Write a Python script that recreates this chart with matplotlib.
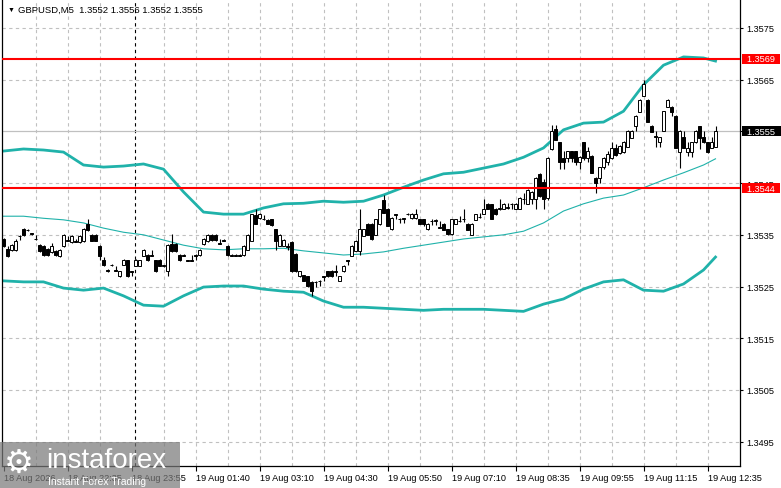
# GBPUSD M5 candlestick chart with Bollinger bands and two levels, MT4 style.
import matplotlib
matplotlib.use('Agg')
import matplotlib.pyplot as plt
from matplotlib.patches import Rectangle

plt.rcParams['font.family'] = ['Liberation Sans', 'DejaVu Sans']

# OHLC of the 5-minute bars
opens = [
    1.35341, 1.35323, 1.35321, 1.35320, 1.35347, 1.35361, 1.35359, 1.35353, 1.35342, 1.35330,
    1.35328, 1.35322, 1.35316, 1.35319, 1.35310, 1.35329, 1.35340, 1.35336, 1.35338, 1.35337,
    1.35338, 1.35371, 1.35350, 1.35350, 1.35329, 1.35302, 1.35282, 1.35292, 1.35282, 1.35270,
    1.35292, 1.35301, 1.35280, 1.35290, 1.35290, 1.35310, 1.35311, 1.35311, 1.35301, 1.35301,
    1.35290, 1.35280, 1.35332, 1.35332, 1.35311, 1.35311, 1.35301, 1.35301, 1.35311, 1.35311,
    1.35332, 1.35338, 1.35350, 1.35350, 1.35334, 1.35340, 1.35329, 1.35311, 1.35311, 1.35311,
    1.35311, 1.35321, 1.35339, 1.35388, 1.35382, 1.35381, 1.35379, 1.35380, 1.35361, 1.35329,
    1.35329, 1.35328, 1.35337, 1.35313, 1.35270, 1.35272, 1.35270, 1.35259, 1.35259, 1.35261,
    1.35270, 1.35280, 1.35281, 1.35280, 1.35261, 1.35280, 1.35301, 1.35310, 1.35319, 1.35319,
    1.35348, 1.35371, 1.35371, 1.35350, 1.35370, 1.35418, 1.35400, 1.35361, 1.35390, 1.35381,
    1.35382, 1.35391, 1.35382, 1.35382, 1.35380, 1.35380, 1.35361, 1.35377, 1.35377, 1.35365,
    1.35371, 1.35361, 1.35351, 1.35371, 1.35377, 1.35380, 1.35371, 1.35350, 1.35379, 1.35384,
    1.35391, 1.35410, 1.35409, 1.35400, 1.35400, 1.35400, 1.35402, 1.35410, 1.35400, 1.35400,
    1.35420, 1.35410, 1.35419, 1.35419, 1.35468, 1.35452, 1.35421, 1.35516, 1.35555, 1.35529,
    1.35499, 1.35499, 1.35512, 1.35512, 1.35491, 1.35529, 1.35499, 1.35503, 1.35460, 1.35460,
    1.35481, 1.35491, 1.35499, 1.35518, 1.35508, 1.35510, 1.35520, 1.35538, 1.35560, 1.35588,
    1.35619, 1.35611, 1.35561, 1.35541, 1.35529, 1.35551, 1.35598, 1.35598, 1.35580, 1.35510,
    1.35539, 1.35510, 1.35510, 1.35529, 1.35560, 1.35539, 1.35529, 1.35518, 1.35520,
]
highs = [
    1.35344, 1.35329, 1.35332, 1.35342, 1.35350, 1.35363, 1.35361, 1.35354, 1.35350, 1.35332,
    1.35330, 1.35324, 1.35334, 1.35320, 1.35322, 1.35352, 1.35348, 1.35350, 1.35342, 1.35350,
    1.35363, 1.35380, 1.35352, 1.35351, 1.35330, 1.35307, 1.35284, 1.35293, 1.35290, 1.35281,
    1.35303, 1.35302, 1.35281, 1.35303, 1.35302, 1.35322, 1.35312, 1.35320, 1.35302, 1.35303,
    1.35292, 1.35332, 1.35351, 1.35334, 1.35313, 1.35312, 1.35302, 1.35311, 1.35312, 1.35322,
    1.35343, 1.35352, 1.35351, 1.35351, 1.35342, 1.35341, 1.35330, 1.35312, 1.35312, 1.35312,
    1.35330, 1.35351, 1.35391, 1.35399, 1.35392, 1.35388, 1.35380, 1.35381, 1.35362, 1.35351,
    1.35341, 1.35334, 1.35338, 1.35314, 1.35281, 1.35273, 1.35271, 1.35260, 1.35260, 1.35262,
    1.35271, 1.35281, 1.35282, 1.35292, 1.35271, 1.35291, 1.35302, 1.35330, 1.35340, 1.35400,
    1.35362, 1.35372, 1.35372, 1.35381, 1.35400, 1.35427, 1.35401, 1.35384, 1.35391, 1.35382,
    1.35383, 1.35392, 1.35392, 1.35400, 1.35381, 1.35381, 1.35372, 1.35380, 1.35380, 1.35377,
    1.35372, 1.35362, 1.35381, 1.35381, 1.35386, 1.35399, 1.35372, 1.35372, 1.35391, 1.35392,
    1.35419, 1.35411, 1.35410, 1.35401, 1.35419, 1.35411, 1.35411, 1.35411, 1.35411, 1.35423,
    1.35431, 1.35438, 1.35435, 1.35461, 1.35469, 1.35458, 1.35500, 1.35562, 1.35562, 1.35530,
    1.35512, 1.35513, 1.35513, 1.35513, 1.35502, 1.35530, 1.35520, 1.35504, 1.35461, 1.35482,
    1.35500, 1.35512, 1.35529, 1.35525, 1.35523, 1.35531, 1.35552, 1.35552, 1.35581, 1.35612,
    1.35650, 1.35612, 1.35562, 1.35551, 1.35540, 1.35590, 1.35612, 1.35599, 1.35581, 1.35552,
    1.35551, 1.35529, 1.35530, 1.35552, 1.35561, 1.35551, 1.35530, 1.35539, 1.35560,
]
lows = [
    1.35326, 1.35307, 1.35319, 1.35319, 1.35340, 1.35348, 1.35357, 1.35350, 1.35340, 1.35317,
    1.35309, 1.35309, 1.35315, 1.35309, 1.35308, 1.35327, 1.35338, 1.35334, 1.35336, 1.35335,
    1.35336, 1.35358, 1.35338, 1.35338, 1.35301, 1.35290, 1.35279, 1.35290, 1.35280, 1.35269,
    1.35291, 1.35269, 1.35270, 1.35289, 1.35289, 1.35309, 1.35300, 1.35309, 1.35279, 1.35289,
    1.35288, 1.35270, 1.35317, 1.35317, 1.35299, 1.35309, 1.35299, 1.35299, 1.35301, 1.35310,
    1.35331, 1.35337, 1.35339, 1.35339, 1.35332, 1.35338, 1.35310, 1.35309, 1.35309, 1.35309,
    1.35309, 1.35320, 1.35338, 1.35370, 1.35381, 1.35378, 1.35370, 1.35368, 1.35320, 1.35328,
    1.35328, 1.35320, 1.35279, 1.35279, 1.35269, 1.35260, 1.35250, 1.35232, 1.35249, 1.35251,
    1.35261, 1.35269, 1.35269, 1.35270, 1.35260, 1.35279, 1.35292, 1.35309, 1.35318, 1.35311,
    1.35347, 1.35349, 1.35340, 1.35349, 1.35369, 1.35392, 1.35367, 1.35360, 1.35380, 1.35373,
    1.35373, 1.35389, 1.35381, 1.35381, 1.35370, 1.35368, 1.35360, 1.35369, 1.35369, 1.35363,
    1.35359, 1.35349, 1.35349, 1.35370, 1.35375, 1.35375, 1.35359, 1.35349, 1.35378, 1.35382,
    1.35390, 1.35399, 1.35380, 1.35389, 1.35398, 1.35399, 1.35400, 1.35400, 1.35399, 1.35399,
    1.35410, 1.35409, 1.35410, 1.35400, 1.35424, 1.35400, 1.35418, 1.35514, 1.35533, 1.35477,
    1.35477, 1.35491, 1.35491, 1.35485, 1.35477, 1.35495, 1.35491, 1.35469, 1.35431, 1.35450,
    1.35477, 1.35485, 1.35497, 1.35503, 1.35507, 1.35508, 1.35519, 1.35537, 1.35551, 1.35587,
    1.35618, 1.35568, 1.35548, 1.35520, 1.35520, 1.35550, 1.35597, 1.35580, 1.35517, 1.35480,
    1.35517, 1.35503, 1.35500, 1.35528, 1.35516, 1.35528, 1.35509, 1.35517, 1.35520,
]
closes = [
    1.35329, 1.35310, 1.35330, 1.35339, 1.35348, 1.35350, 1.35360, 1.35352, 1.35341, 1.35319,
    1.35311, 1.35311, 1.35329, 1.35311, 1.35321, 1.35350, 1.35339, 1.35348, 1.35337, 1.35348,
    1.35361, 1.35360, 1.35339, 1.35339, 1.35310, 1.35292, 1.35281, 1.35291, 1.35281, 1.35280,
    1.35301, 1.35270, 1.35279, 1.35301, 1.35301, 1.35321, 1.35301, 1.35310, 1.35280, 1.35290,
    1.35291, 1.35330, 1.35319, 1.35319, 1.35301, 1.35310, 1.35300, 1.35300, 1.35310, 1.35321,
    1.35342, 1.35350, 1.35340, 1.35340, 1.35333, 1.35339, 1.35311, 1.35310, 1.35310, 1.35310,
    1.35329, 1.35350, 1.35390, 1.35371, 1.35391, 1.35380, 1.35371, 1.35369, 1.35338, 1.35350,
    1.35340, 1.35327, 1.35280, 1.35280, 1.35280, 1.35261, 1.35252, 1.35241, 1.35258, 1.35260,
    1.35269, 1.35270, 1.35270, 1.35279, 1.35270, 1.35290, 1.35300, 1.35329, 1.35339, 1.35361,
    1.35361, 1.35350, 1.35341, 1.35380, 1.35399, 1.35393, 1.35368, 1.35383, 1.35389, 1.35380,
    1.35381, 1.35390, 1.35391, 1.35391, 1.35371, 1.35370, 1.35371, 1.35376, 1.35378, 1.35364,
    1.35360, 1.35351, 1.35380, 1.35380, 1.35376, 1.35381, 1.35360, 1.35371, 1.35390, 1.35385,
    1.35400, 1.35400, 1.35381, 1.35390, 1.35401, 1.35410, 1.35403, 1.35409, 1.35410, 1.35421,
    1.35419, 1.35437, 1.35433, 1.35460, 1.35425, 1.35419, 1.35498, 1.35551, 1.35534, 1.35491,
    1.35491, 1.35512, 1.35499, 1.35491, 1.35500, 1.35499, 1.35512, 1.35470, 1.35450, 1.35481,
    1.35499, 1.35507, 1.35518, 1.35504, 1.35522, 1.35530, 1.35551, 1.35551, 1.35580, 1.35611,
    1.35642, 1.35569, 1.35549, 1.35540, 1.35539, 1.35589, 1.35611, 1.35588, 1.35518, 1.35551,
    1.35518, 1.35518, 1.35529, 1.35551, 1.35538, 1.35529, 1.35510, 1.35529, 1.35550,
]

# Bollinger bands, read every 5 bars
band_idx = [0, 5, 10, 15, 20, 25, 30, 35, 40, 45, 50, 55, 60, 65, 70, 75, 80, 85,
            90, 95, 100, 105, 110, 115, 120, 125, 130, 135, 140, 145, 150, 155,
            160, 165, 170, 175, 178]
band_upper = [
    1.35512, 1.35516, 1.35514, 1.35510, 1.35485, 1.35481, 1.35483, 1.35487, 1.35477, 1.35433,
    1.35394, 1.35390, 1.35390, 1.35402, 1.35410, 1.35411, 1.35415, 1.35413, 1.35415, 1.35427,
    1.35442, 1.35456, 1.35468, 1.35471, 1.35479, 1.35487, 1.35500, 1.35518, 1.35553, 1.35566,
    1.35568, 1.35589, 1.35640, 1.35678, 1.35694, 1.35692, 1.35686,
]
band_mid = [
    1.35386, 1.35386, 1.35382, 1.35379, 1.35373, 1.35363, 1.35355, 1.35350, 1.35340, 1.35330,
    1.35323, 1.35321, 1.35323, 1.35323, 1.35324, 1.35319, 1.35315, 1.35311, 1.35313, 1.35317,
    1.35324, 1.35330, 1.35336, 1.35342, 1.35346, 1.35350, 1.35357, 1.35373, 1.35396, 1.35410,
    1.35421, 1.35427, 1.35441, 1.35456, 1.35470, 1.35485, 1.35497,
]
band_lower = [
    1.35261, 1.35259, 1.35259, 1.35247, 1.35243, 1.35247, 1.35232, 1.35214, 1.35212, 1.35232,
    1.35249, 1.35251, 1.35251, 1.35245, 1.35241, 1.35239, 1.35222, 1.35210, 1.35210, 1.35208,
    1.35206, 1.35204, 1.35206, 1.35206, 1.35206, 1.35204, 1.35202, 1.35216, 1.35226, 1.35245,
    1.35259, 1.35263, 1.35243, 1.35241, 1.35255, 1.35282, 1.35307,
]

levels = [1.3569, 1.3544]
bid = 1.3555
price_ticks = [1.3495, 1.3505, 1.3515, 1.3525, 1.3535, 1.3545, 1.3555, 1.3565, 1.3575]
label_idx = [0, 16, 32, 48, 64, 80, 96, 112, 128, 144, 160, 176]
time_labels = ['18 Aug 2026', '18 Aug 22:35', '18 Aug 23:55', '19 Aug 01:40',
               '19 Aug 03:10', '19 Aug 04:30', '19 Aug 05:50', '19 Aug 07:10',
               '19 Aug 08:35', '19 Aug 09:55', '19 Aug 11:15', '19 Aug 12:35']
grid_idx = [8, 16, 24, 40, 48, 56, 64, 72, 80, 88, 96, 104, 112, 120, 128,
            136, 144, 152, 160, 168, 176]
day_sep = 32.9
title = 'GBPUSD,M5  1.3552 1.3556 1.3552 1.3555'

W, H = 781, 489
fig = plt.figure(figsize=(W / 100, H / 100), dpi=100)
ax = fig.add_axes([2 / W, 22 / H, 738 / W, 467 / H])

# grid
for p in price_ticks:
    if p != bid:
        ax.axhline(p, color='#c0c0c0', lw=0.8, ls=(0, (3, 3)), zorder=0)
for g in grid_idx:
    ax.axvline(g, color='#c0c0c0', lw=0.8, ls=(0, (3, 3)), zorder=0)
ax.axvline(day_sep, color='black', lw=0.8, ls=(0, (3, 3)), zorder=1)
ax.axhline(bid, color='#c0c0c0', lw=0.9, zorder=1)

# bands
teal = '#20b2aa'
ax.plot(band_idx, band_upper, color=teal, lw=2.0, zorder=2)
ax.plot(band_idx, band_lower, color=teal, lw=2.0, zorder=2)
ax.plot(band_idx, band_mid, color=teal, lw=0.8, zorder=2)

# candles
idx = list(range(len(closes)))
ax.vlines(idx, lows, highs, color='black', lw=0.8, zorder=4)
bottoms = [min(o, c) for o, c in zip(opens, closes)]
heights = [abs(c - o) for o, c in zip(opens, closes)]
fills = ['white' if c > o else 'black' for o, c in zip(opens, closes)]
ax.bar(idx, heights, bottom=bottoms, width=0.55, color=fills,
       edgecolor='black', linewidth=0.7, zorder=5)

# levels
for lv in levels:
    ax.axhline(lv, color='red', lw=1.5, zorder=6)

ax.set_xlim(-0.375, 184.125)
ax.set_ylim(1.34903, 1.35806)

ax.yaxis.tick_right()
ax.set_yticks(price_ticks)
# the bid box covers the 1.3555 label completely
ax.set_yticklabels(['' if p == bid else f'{p:.4f}' for p in price_ticks])
ax.tick_params(axis='y', direction='out', length=2.5, width=0.8, pad=2,
               labelsize=6.6, colors='black')
ax.set_xticks(label_idx)
ax.set_xticklabels(time_labels, ha='left')
ax.tick_params(axis='x', direction='out', length=3.5, width=0.8, pad=1.5,
               labelsize=6.6, colors='black')
for side in ['left', 'right', 'bottom']:
    ax.spines[side].set_linewidth(0.9)
ax.spines['top'].set_visible(False)

# price boxes on the right scale
def price_box(price, fc):
    ax.annotate(f'  {price:.4f}  ', xy=(1, price),
                xycoords=('axes fraction', 'data'), xytext=(1.5, 0),
                textcoords='offset points', ha='left', va='center',
                color='white', fontsize=6.6, annotation_clip=False,
                bbox=dict(boxstyle='square,pad=0.05', fc=fc, ec='none'),
                zorder=8)

for lv in levels:
    price_box(lv, 'red')
price_box(bid, 'black')

# header
fig.text(8 / W, 1 - 10 / H, '▼', fontsize=5, va='center', ha='left')
fig.text(18 / W, 1 - 10 / H, title, fontsize=6.8, va='center', ha='left')

# watermark
fig.patches.append(Rectangle((0, 0), 180 / W, 46 / H, transform=fig.transFigure,
                             fc='#7a7a7a', ec='none', alpha=0.72, zorder=10))
fig.text(4 / W, 1 - 463 / H, '⚙', fontsize=24, color='white', va='center',
         ha='left', family='DejaVu Sans', zorder=11)
fig.text(46 / W, 1 - 468 / H, 'instaforex', fontsize=20, color='white',
         va='baseline', ha='left', zorder=11)
fig.text(48 / W, 1 - 485 / H, 'Instant Forex Trading', fontsize=7.5,
         color='white', va='baseline', ha='left', zorder=11)

plt.savefig('out.png', dpi=100)
